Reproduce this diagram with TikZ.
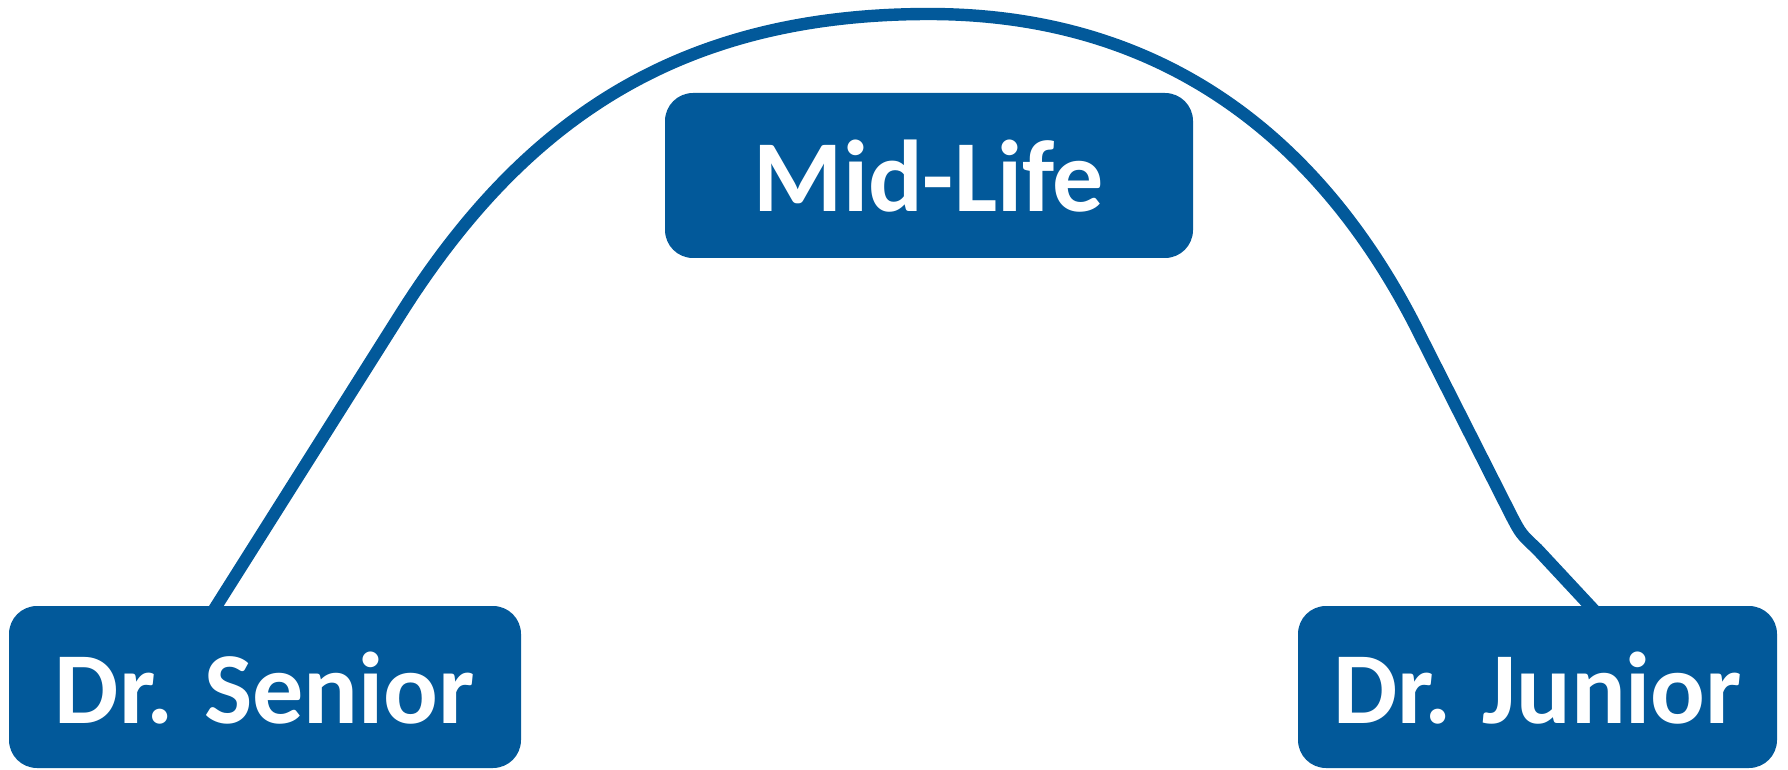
\documentclass[tikz,border=0pt]{standalone}
\usepackage{fontspec}
\newfontfamily\carl{Carlito}
\usetikzlibrary{backgrounds}
\definecolor{lifeblue}{RGB}{2,89,154}
\tikzset{
  stagebox/.style={fill=lifeblue, draw=none, rounded corners=14pt, inner sep=0pt,
    text=white, font=\carl\bfseries\fontsize{51}{60}\selectfont,
    text height=36pt, text depth=0pt},
  lifeline/.style={draw=lifeblue, line width=6.2pt, line join=round}
}
\begin{document}
\begin{tikzpicture}[x=0.5pt, y=-0.5pt]
\useasboundingbox (0,0) rectangle (1788,770);
\node[stagebox, minimum width=256pt, minimum height=81pt] (senior) at (265,687) {Dr. Senior};
\node[stagebox, minimum width=264pt, minimum height=82.5pt] (mid) at (929,175.5) {Mid-Life};
\node[stagebox, minimum width=239.5pt, minimum height=81pt] (junior) at (1537.5,687) {Dr. Junior};
\begin{pgfonlayer}{background}
\draw[lifeline] (senior.center) -- (205,624) -- (400,315)
  .. controls (523,120) and (679,14) .. (929,14)
  .. controls (1179,14) and (1331,156) .. (1420,335)
  -- (1512,517)
  .. controls (1521,534) .. (1537,549)
  -- (1605,622) -- (junior.center);
\end{pgfonlayer}
\end{tikzpicture}
\end{document}
